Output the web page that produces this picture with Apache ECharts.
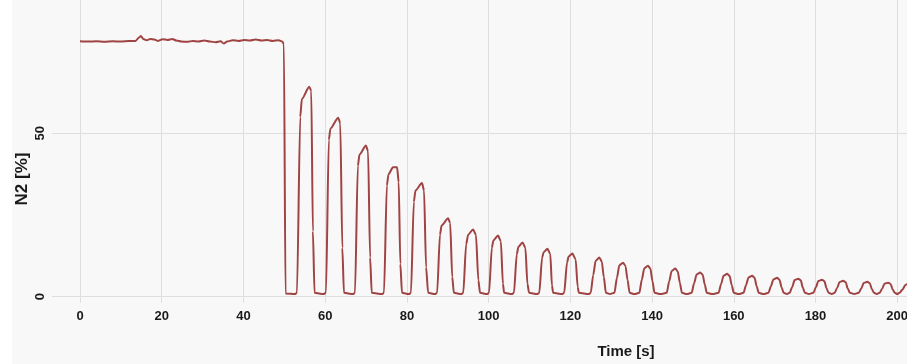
<!DOCTYPE html>
<html><head><meta charset="utf-8">
<script src="https://cdn.jsdelivr.net/npm/echarts@6/dist/echarts.min.js"></script>
<style>html,body{margin:0;padding:0;background:#fff}#c{width:907px;height:364px}</style>
</head><body><div id="c"></div>
<script>
// ---- data ----
const yAxisName = 'N2 [%]';
const xAxisName = 'Time [s]';
const xTickStep = 20;      // x tick labels 0,20,...,200
const yTickStep = 50;      // y tick labels 0,50
// steady phase (t in s, N2 in %)
const plateau = [
  [0,78.2],[2,78.1],[4,78.2],[6,78.0],[8,78.2],[10,78.1],[12,78.3],[13.6,78.3],[14.4,79.3],[14.9,79.8],
  [15.5,78.9],[16.3,78.5],[17.2,78.9],[18.2,78.7],[19.0,78.3],[20.2,78.8],[21.4,78.6],[22.6,78.9],[23.6,78.4],
  [24.8,78.1],[26.2,78.0],[27.6,78.3],[29.0,78.1],[30.4,78.4],[31.8,78.1],[33.2,77.9],[34.4,78.2],[35.2,77.5],
  [36.0,78.1],[37.4,78.5],[38.8,78.3],[40.2,78.6],[41.6,78.4],[43.0,78.7],[44.4,78.4],[45.8,78.6],[47.2,78.3],
  [48.6,78.5],[49.5,78.1],[49.9,77.3]
];
// purge pulses
const pulses = [
  [50.3,1.0],[52.6,0.8],
  [53.1,1.2],[53.9,55],[54.3,60.5],[56.1,64.3],[56.6,63],[57.0,20],[57.4,1.2],[59.6,0.8],
  [60.2,1.2],[60.9,48],[61.3,51.5],[63.2,54.8],[63.7,53],[64.2,15],[64.6,1.2],[66.8,0.8],
  [67.3,1.2],[68.0,40],[68.4,43.5],[70.0,46.3],[70.5,44.5],[71.0,12],[71.4,1.2],[73.9,0.8],
  [74.4,1.2],[75.1,34],[75.5,37.5],[76.6,39.6],[77.6,39.6],[78.0,35],[78.4,10],[78.8,1.2],[80.5,0.8],
  [81.0,1.2],[81.7,29],[82.1,32.5],[83.7,34.8],[84.2,32.5],[84.7,9],[85.2,1.2],[86.9,0.8],
  [87.4,1.2],[88.1,19],[88.5,21.8],[90.1,24],[90.6,22.5],[91.1,6],[91.5,1.2],[93.3,0.8],
  [93.8,1.2],[94.5,16],[95.0,19],[96.2,20.6],[96.9,19],[97.5,5],[97.9,1.2],[99.6,0.8],
  [100.1,1.2],[100.8,15],[101.2,17.3],[102.3,18.7],[103.0,17],[103.5,4],[103.8,1.2],[105.7,0.8],
  [106.2,1.2],[106.9,13],[107.3,15.3],[108.3,16.6],[109.0,15],[109.5,4],[109.9,1.2],[111.9,0.8],
  [112.4,1.2],[113.1,12],[113.5,13.7],[114.4,14.7],[115.1,13],[115.5,3.5],[115.8,1.2],[118.0,0.8],
  [118.5,1.2],[119.2,10.5],[119.6,12.3],[120.5,13.2],[121.3,11.5],[121.8,3],[122.1,1.2],[124.5,0.8],
  [125.0,1.2],[125.6,6.6],[126.2,11.0],[127.1,12.0],[127.7,10.8],[128.2,6.0],[128.7,1.2],[129.7,0.8],
  [130.8,1.2],[131.4,5.7],[132.0,9.6],[132.9,10.4],[133.5,9.4],[134.0,5.2],[134.5,1.2],[135.7,0.8],
  [136.9,1.2],[137.5,5.2],[138.1,8.7],[139.0,9.5],[139.6,8.6],[140.1,4.8],[140.6,1.2],[142.1,0.8],
  [143.6,1.2],[144.2,4.7],[144.8,7.9],[145.7,8.6],[146.3,7.7],[146.8,4.3],[147.3,1.2],[148.5,0.8],
  [149.7,1.2],[150.3,4.1],[150.9,6.8],[151.8,7.4],[152.4,6.7],[152.9,3.7],[153.4,1.2],[154.8,0.8],
  [156.3,1.2],[156.9,3.9],[157.5,6.4],[158.4,7.0],[159.0,6.3],[159.5,3.5],[160.0,1.2],[161.2,0.8],
  [162.4,1.2],[163.0,3.5],[163.6,5.9],[164.5,6.4],[165.1,5.8],[165.6,3.2],[166.1,1.2],[167.3,0.8],
  [168.5,1.2],[169.1,3.2],[169.7,5.3],[170.6,5.8],[171.2,5.2],[171.7,2.9],[172.2,1.2],[173.0,0.8],
  [173.7,1.2],[174.3,3.0],[174.9,5.1],[175.8,5.5],[176.4,5.0],[176.9,2.8],[177.4,1.2],[178.4,0.8],
  [179.5,1.2],[180.1,2.9],[180.7,4.8],[181.6,5.2],[182.2,4.7],[182.7,2.6],[183.2,1.2],[184.0,0.8],
  [184.7,1.2],[185.3,2.7],[185.9,4.5],[186.8,4.9],[187.4,4.4],[187.9,2.5],[188.4,1.2],[189.5,0.8],
  [190.6,1.2],[191.2,2.5],[191.8,4.2],[192.7,4.6],[193.3,4.1],[193.8,2.3],[194.3,1.2],[195.0,0.8],
  [195.7,1.2],[196.3,2.4],[196.9,4.0],[197.8,4.3],[198.4,3.9],[198.9,2.2],[199.4,1.2],[200.0,0.8],
  [200.6,1.2],[201.3,2.2],[202.0,3.6],[202.6,4.0]
];
// ---- chart ----
const gridCol = '#dedede';
const lblFont = '"Liberation Sans Narrow","Liberation Sans",Arial,sans-serif';
const chart = echarts.init(document.getElementById('c'), null, {renderer:'canvas'});
chart.setOption({
  animation:false,
  backgroundColor:'#f8f8f8',
  grid:[
    {left:52, right:0, top:-30, bottom:67.3, outerBoundsMode:'none', containLabel:false},
    {left:80, right:0, top:-30, bottom:67.3, outerBoundsMode:'none', containLabel:false}
  ],
  xAxis:[
    {gridIndex:0, type:'value', min:0, max:1, show:false},
    {gridIndex:1, type:'value', min:0, max:202.4, interval:xTickStep,
     axisLine:{show:false},
     axisTick:{show:true, length:6, lineStyle:{color:gridCol}},
     splitLine:{show:true, lineStyle:{color:gridCol, width:1}},
     axisLabel:{showMaxLabel:false, margin:13, color:'#1a1a1a', fontSize:13, fontWeight:'bold', fontFamily:lblFont}}
  ],
  yAxis:[
    {gridIndex:0, type:'value', min:0, max:100, interval:yTickStep,
     axisLine:{show:false}, axisTick:{show:false},
     splitLine:{show:true, lineStyle:{color:gridCol, width:1}},
     axisLabel:{rotate:90, margin:5, color:'#1a1a1a', fontSize:13, fontWeight:'bold', fontFamily:lblFont}},
    {gridIndex:1, type:'value', min:0, max:100, show:false}
  ],
  graphic:[
    {type:'rect', shape:{x:0,y:0,width:12,height:364}, style:{fill:'#ffffff'}, silent:true},
    {type:'text', x:22, y:179, rotation:Math.PI/2,
     style:{text:yAxisName, fill:'#1a1a1a', font:'bold 17px '+lblFont, align:'center', verticalAlign:'middle'}},
    {type:'text', x:626, y:352,
     style:{text:xAxisName, fill:'#1a1a1a', font:'bold 15px '+lblFont, align:'center', verticalAlign:'middle'}}
  ],
  series:[{
    type:'line', xAxisIndex:1, yAxisIndex:1,
    data: plateau.concat(pulses),
    showSymbol:false, symbol:'none',
    smooth:0.25, smoothMonotone:'x',
    lineStyle:{color:'#a04343', width:2}
  }]
});
</script></body></html>
